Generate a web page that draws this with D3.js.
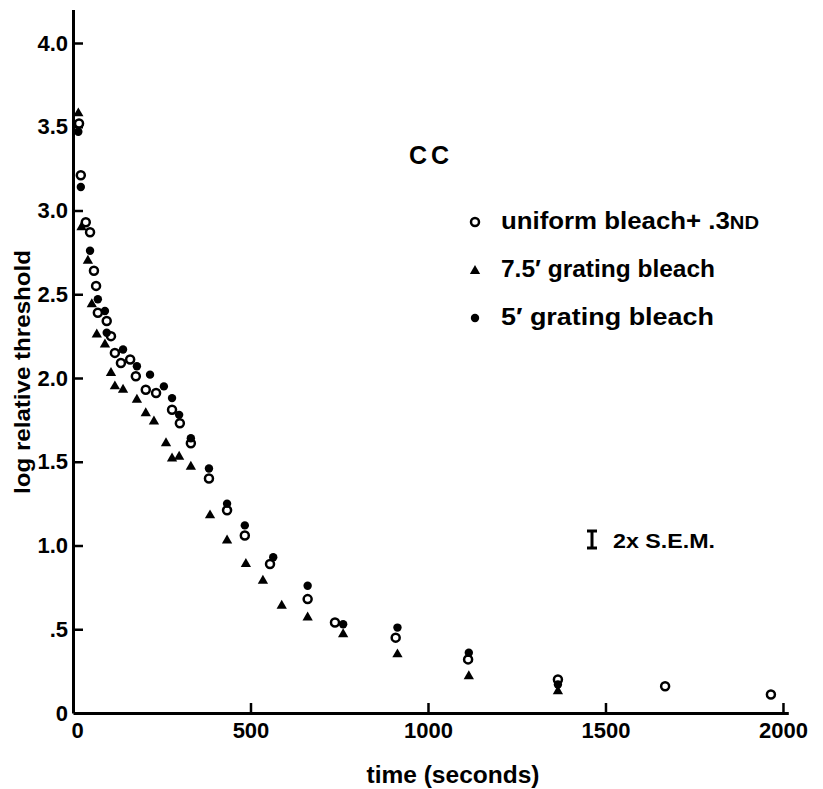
<!DOCTYPE html>
<html>
<head>
<meta charset="utf-8">
<script src="https://cdn.jsdelivr.net/npm/d3@7"></script>
<style>
  body { margin: 0; background: #fff; }
  text { font-family: "Liberation Sans", Arial, sans-serif; fill: #000; font-weight: bold; }
</style>
</head>
<body>
<div id="chart"></div>
<script>
// time (s) and log relative threshold
var uniformT = [17, 22, 36, 48, 59, 65, 70, 95, 107, 118, 135, 161, 177, 205, 234, 279, 301, 332, 383, 434, 484, 555, 661, 738, 909, 1113, 1366, 1668, 1966];
var uniformV = [3.52, 3.21, 2.93, 2.87, 2.64, 2.55, 2.39, 2.34, 2.25, 2.15, 2.09, 2.11, 2.01, 1.93, 1.91, 1.81, 1.73, 1.61, 1.40, 1.21, 1.06, 0.89, 0.68, 0.54, 0.45, 0.32, 0.20, 0.16, 0.11];

var grating75T = [15, 24, 42, 53, 67, 90, 107, 118, 141, 180, 205, 228, 262, 279, 299, 332, 386, 434, 487, 535, 588, 661, 761, 914, 1115, 1366];
var grating75V = [3.58, 2.90, 2.70, 2.44, 2.26, 2.20, 2.03, 1.95, 1.93, 1.87, 1.79, 1.74, 1.61, 1.52, 1.53, 1.47, 1.18, 1.03, 0.89, 0.79, 0.64, 0.57, 0.47, 0.35, 0.22, 0.13];

var grating5T = [15, 22, 48, 70, 90, 95, 141, 180, 217, 256, 279, 299, 332, 383, 434, 484, 564, 661, 761, 914, 1115, 1366];
var grating5V = [3.47, 3.14, 2.76, 2.47, 2.40, 2.27, 2.17, 2.07, 2.02, 1.95, 1.88, 1.78, 1.64, 1.46, 1.25, 1.12, 0.93, 0.76, 0.53, 0.51, 0.36, 0.17];

var yTicks = [0, 0.5, 1.0, 1.5, 2.0, 2.5, 3.0, 3.5, 4.0];
var yTickLabels = ["0", ".5", "1.0", "1.5", "2.0", "2.5", "3.0", "3.5", "4.0"];
var xTicks = [0, 500, 1000, 1500, 2000];
var xTickLabels = ["0", "500", "1000", "1500", "2000"];

function init() {
    var width = 823, height = 789;

    var svg = d3.select("#chart")
        .append("svg")
        .attr("width", width)
        .attr("height", height);

    var xScale = d3.scaleLinear().domain([0, 2015]).range([73, 788.3]);
    var yScale = d3.scaleLinear().domain([0, 4.2]).range([713, 9.5]);

    // axes
    var leftAxis = d3.axisLeft(yScale)
        .tickValues(yTicks)
        .tickSizeInner(-10)
        .tickSizeOuter(0)
        .tickPadding(5)
        .tickFormat((d, i) => yTickLabels[i]);

    var botAxis = d3.axisBottom(xScale)
        .tickValues(xTicks)
        .tickSizeInner(-10)
        .tickSizeOuter(0)
        .tickPadding(9)
        .tickFormat((d, i) => xTickLabels[i]);

    var yAxisG = svg.append("g")
        .attr("transform", "translate(" + xScale(0) + ",0)")
        .call(leftAxis);

    var xAxisG = svg.append("g")
        .attr("transform", "translate(0," + yScale(0) + ")")
        .call(botAxis);

    [yAxisG, xAxisG].forEach(g => {
        g.select(".domain").attr("stroke", "#000").attr("stroke-width", 3);
        g.selectAll(".tick line").attr("stroke", "#000").attr("stroke-width", 2.5);
        g.selectAll(".tick text")
            .attr("font-family", "'Liberation Sans', Arial, sans-serif")
            .attr("font-size", 22)
            .attr("font-weight", "bold")
            .attr("fill", "#000");
    });
    // no tick line at the origin
    yAxisG.selectAll(".tick").filter(d => d === 0).select("line").remove();
    xAxisG.selectAll(".tick").filter(d => d === 0).select("line").remove();
    xAxisG.selectAll(".tick").filter(d => d === 0).select("text").attr("x", 4);

    // axis titles
    svg.append("text")
        .attr("transform", "translate(30," + 372 + ") rotate(-90)")
        .attr("text-anchor", "middle")
        .attr("font-size", 22)
        .attr("textLength", 244)
        .attr("lengthAdjust", "spacingAndGlyphs")
        .text("log relative threshold");

    svg.append("text")
        .attr("x", 453)
        .attr("y", 783)
        .attr("text-anchor", "middle")
        .attr("font-size", 23)
        .attr("textLength", 173)
        .attr("lengthAdjust", "spacingAndGlyphs")
        .text("time  (seconds)");

    // data marks
    var tri = d3.symbol().type(d3.symbolTriangle).size(46);

    svg.append("g").selectAll("path")
        .data(grating75T.map((t, i) => [t, grating75V[i]]))
        .enter()
        .append("path")
        .attr("d", tri)
        .attr("transform", d => "translate(" + xScale(d[0]) + "," + yScale(d[1]) + ")")
        .attr("fill", "#000");

    svg.append("g").selectAll("circle")
        .data(uniformT.map((t, i) => [t, uniformV[i]]))
        .enter()
        .append("circle")
        .attr("cx", d => xScale(d[0]))
        .attr("cy", d => yScale(d[1]))
        .attr("r", 4)
        .attr("fill", "#fff")
        .attr("stroke", "#000")
        .attr("stroke-width", 2.5);

    svg.append("g").selectAll("circle")
        .data(grating5T.map((t, i) => [t, grating5V[i]]))
        .enter()
        .append("circle")
        .attr("cx", d => xScale(d[0]))
        .attr("cy", d => yScale(d[1]))
        .attr("r", 4.2)
        .attr("fill", "#000");

    // labels
    svg.append("text")
        .attr("x", 409)
        .attr("y", 164)
        .attr("font-size", 25)
        .attr("font-weight", "normal")
        .attr("textLength", 40)
        .attr("lengthAdjust", "spacing")
        .text("CC");

    var legend = svg.append("g");
    legend.append("circle")
        .attr("cx", 475).attr("cy", 222).attr("r", 4)
        .attr("fill", "#fff").attr("stroke", "#000").attr("stroke-width", 2.5);
    legend.append("path")
        .attr("d", tri)
        .attr("transform", "translate(475,271)");
    legend.append("circle")
        .attr("cx", 475).attr("cy", 318).attr("r", 4.2)
        .attr("fill", "#000");

    var t1 = legend.append("text")
        .attr("x", 501).attr("y", 229)
        .attr("font-size", 23)
        .attr("textLength", 258)
        .attr("lengthAdjust", "spacingAndGlyphs");
    t1.append("tspan").text("uniform  bleach+ .3");
    t1.append("tspan").attr("font-size", 18).text("ND");

    legend.append("text")
        .attr("x", 501).attr("y", 277)
        .attr("font-size", 23)
        .attr("textLength", 214)
        .attr("lengthAdjust", "spacingAndGlyphs")
        .text("7.5\u2032 grating  bleach");

    legend.append("text")
        .attr("x", 501).attr("y", 325)
        .attr("font-size", 23)
        .attr("textLength", 213)
        .attr("lengthAdjust", "spacingAndGlyphs")
        .text("5\u2032  grating  bleach");

    // error bar legend
    var eb = svg.append("g").attr("stroke", "#000").attr("stroke-width", 3);
    eb.append("line").attr("x1", 592).attr("x2", 592).attr("y1", 531).attr("y2", 548);
    eb.append("line").attr("x1", 587).attr("x2", 597).attr("y1", 531).attr("y2", 531);
    eb.append("line").attr("x1", 587).attr("x2", 597).attr("y1", 548).attr("y2", 548);

    svg.append("text")
        .attr("x", 613).attr("y", 548)
        .attr("font-size", 21)
        .attr("textLength", 102)
        .attr("lengthAdjust", "spacingAndGlyphs")
        .text("2x S.E.M.");
}
window.addEventListener('load', init, false);
</script>
</body>
</html>
